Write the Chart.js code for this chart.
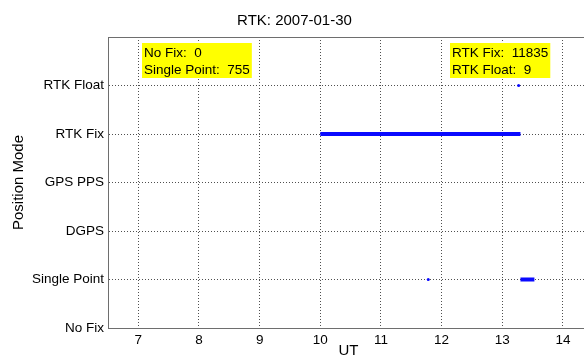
<!DOCTYPE html>
<html>
<head>
<meta charset="utf-8">
<title>RTK position mode</title>
<script src="https://cdn.jsdelivr.net/npm/chart.js@4.4.1/dist/chart.umd.min.js"></script>
<style>
  html, body { margin: 0; padding: 0; background: #fff; overflow: hidden; }
  #mode-chart { display: block; }
</style>
</head>
<body>
<canvas id="mode-chart" width="600" height="360"></canvas>
<script>
// position modes, index = value on the y axis
var modes = ['No Fix', 'Single Point', 'DGPS', 'GPS PPS', 'RTK Fix', 'RTK Float'];
var hourTicks = [7, 8, 9, 10, 11, 12, 13, 14];
var modeTicks = [0, 1, 2, 3, 4, 5, 6];

// continuous runs in each mode (UT hours)
var runMode = [4, 1];
var runStart = [10.0, 13.30];
var runEnd = [13.30, 13.53];

// single epochs
var dotMode = [1, 5];
var dotTime = [11.78, 13.27];

// epoch counts per mode
var countNoFix = 0;
var countSingle = 755;
var countFix = 11835;
var countFloat = 9;

var runPoints = [];
for (var i = 0; i < runStart.length; i++) {
    runPoints.push({x: runStart[i], y: runMode[i]});
    runPoints.push({x: runEnd[i], y: runMode[i]});
    runPoints.push({x: runEnd[i], y: null});
}
var dotPoints = [];
for (var j = 0; j < dotTime.length; j++) {
    dotPoints.push({x: dotTime[j], y: dotMode[j]});
}

var countBoxes = [
    {x: 7.06, y: 5.88, lines: ['No Fix:  ' + countNoFix, 'Single Point:  ' + countSingle]},
    {x: 12.14, y: 5.88, lines: ['RTK Fix:  ' + countFix, 'RTK Float:  ' + countFloat]}
];

var fontName = '"Liberation Sans", Arial, Helvetica, sans-serif';

// solid box round the axes, like matlab's "box on"
var axesBox = {
    id: 'axesBox',
    afterDraw: function(chart) {
        var a = chart.chartArea, ctx = chart.ctx;
        ctx.save();
        ctx.strokeStyle = '#6e6e6e';
        ctx.lineWidth = 1;
        ctx.beginPath();
        ctx.moveTo(a.left, a.top + 0.5);
        ctx.lineTo(a.right, a.top + 0.5);
        ctx.moveTo(a.right - 0.5, a.top);
        ctx.lineTo(a.right - 0.5, a.bottom);
        ctx.stroke();
        ctx.restore();
    }
};

// yellow count labels
var countLabels = {
    id: 'countLabels',
    afterDatasetsDraw: function(chart) {
        var ctx = chart.ctx;
        var xs = chart.scales.x, ys = chart.scales.y;
        ctx.save();
        ctx.font = '13.5px ' + fontName;
        ctx.textBaseline = 'middle';
        countBoxes.forEach(function(b) {
            var left = Math.round(xs.getPixelForValue(b.x));
            var top = Math.round(ys.getPixelForValue(b.y));
            var w = 0;
            b.lines.forEach(function(t) { w = Math.max(w, ctx.measureText(t).width); });
            ctx.fillStyle = '#ffff00';
            ctx.fillRect(left, top, w + 4, 35);
            ctx.fillStyle = '#000';
            b.lines.forEach(function(t, k) {
                ctx.fillText(t, left + 2, top + 10 + k * 17);
            });
        });
        ctx.restore();
    }
};

var ctx = document.getElementById('mode-chart').getContext('2d');
window.modeChart = new Chart(ctx, {
    type: 'line',
    data: {
        datasets: [{
            data: runPoints,
            borderColor: '#0a0aff',
            borderWidth: 4,
            borderCapStyle: 'butt',
            pointRadius: 0,
            spanGaps: false,
            fill: false
        }, {
            type: 'scatter',
            data: dotPoints,
            backgroundColor: '#0a0aff',
            borderWidth: 0,
            pointRadius: 1.5
        }]
    },
    plugins: [axesBox, countLabels],
    options: {
        responsive: false,
        animation: false,
        events: [],
        layout: {padding: {left: 0, right: 11, top: 0, bottom: 0}},
        plugins: {
            legend: {display: false},
            tooltip: {enabled: false},
            title: {
                display: true,
                text: 'RTK: 2007-01-30',
                color: '#000',
                font: {family: fontName, size: 15, weight: 'normal'},
                padding: {top: 12, bottom: 7}
            }
        },
        scales: {
            x: {
                type: 'linear',
                min: 6.5,
                max: 14.43,
                afterBuildTicks: function(scale) {
                    scale.ticks = hourTicks.map(function(v) { return {value: v}; });
                },
                afterFit: function(scale) { scale.height = 32; },
                ticks: {
                    color: '#000',
                    padding: 4,
                    font: {family: fontName, size: 13.5}
                },
                grid: {color: '#505050', drawTicks: false},
                border: {color: '#6e6e6e', dash: [1, 2]},
                title: {
                    display: true,
                    text: 'UT',
                    color: '#000',
                    font: {family: fontName, size: 15},
                    padding: {top: 0, bottom: 0}
                }
            },
            y: {
                type: 'linear',
                min: 0,
                max: 6,
                afterBuildTicks: function(scale) {
                    scale.ticks = modeTicks.map(function(v) { return {value: v}; });
                },
                afterFit: function(scale) { scale.width = 108; },
                ticks: {
                    color: '#000',
                    padding: 4,
                    font: {family: fontName, size: 13.5},
                    callback: function(v) { return modes[v] || ''; }
                },
                grid: {color: '#505050', drawTicks: false},
                border: {color: '#6e6e6e', dash: [1, 2]},
                title: {
                    display: true,
                    text: 'Position Mode',
                    color: '#000',
                    font: {family: fontName, size: 15},
                    padding: {top: 10, bottom: 0}
                }
            }
        }
    }
});
</script>
</body>
</html>
